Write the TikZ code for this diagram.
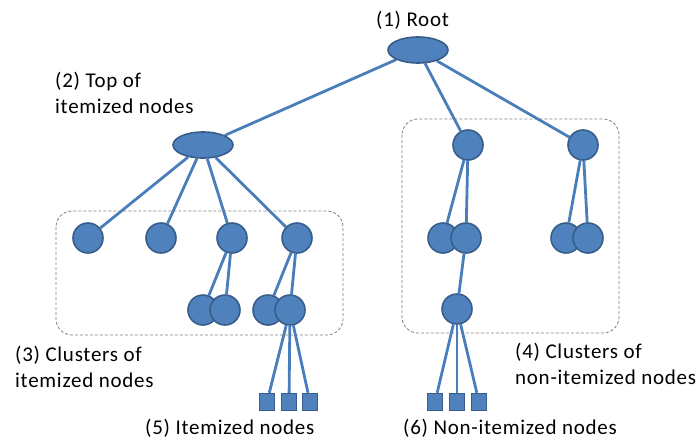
\documentclass[tikz,border=0pt]{standalone}
\usepackage{fontspec}
\setmainfont{Carlito}[LetterSpace=3.5]
\usetikzlibrary{shapes.geometric}
\pgfdeclarelayer{background}
\pgfsetlayers{background,main}
\definecolor{nodefill}{HTML}{4F81BD}
\definecolor{nodeedge}{HTML}{385D8A}
\definecolor{linkcol}{HTML}{4A7EBB}
\definecolor{boxcol}{HTML}{808080}
\tikzset{
  ovalnode/.style={ellipse, draw=nodeedge, fill=nodefill, line width=1.6pt, minimum width=60pt, minimum height=26pt, inner sep=0pt},
  dotnode/.style={circle, draw=nodeedge, fill=nodefill, line width=1.6pt, minimum size=30pt, inner sep=0pt},
  leafnode/.style={rectangle, draw=nodeedge, fill=nodefill, line width=1.4pt, minimum width=15pt, minimum height=17pt, inner sep=0pt},
  link/.style={draw=linkcol, line width=2.8pt},
  clusterbox/.style={draw=boxcol, dashed, dash pattern=on 3pt off 2pt, line width=0.8pt, rounded corners=16pt},
  lbl/.style={font=\fontsize{21}{26}\selectfont, align=left, inner sep=0pt, anchor=west}
}
\begin{document}
\begin{tikzpicture}[x=1pt,y=-1pt]
\useasboundingbox (0,0) rectangle (698,439);
% clusters
\draw[clusterbox] (56,211) rectangle (343,335);
\draw[clusterbox] (402,119) rectangle (619,333);
% nodes
\node[ovalnode] (root) at (418,50) {};
\node[ovalnode] (top) at (203,145) {};
\node[dotnode] (a1) at (88,238) {};
\node[dotnode] (a2) at (161,238) {};
\node[dotnode] (a3) at (232,238) {};
\node[dotnode] (a4) at (297,238) {};
\node[dotnode] (b1) at (203,310) {};
\node[dotnode] (b2) at (225,310) {};
\node[dotnode] (b3) at (268,310) {};
\node[dotnode] (b4) at (290,310) {};
\node[leafnode] (s1) at (267,402) {};
\node[leafnode] (s2) at (289,402) {};
\node[leafnode] (s3) at (310,402) {};
\node[dotnode] (c1) at (468,145) {};
\node[dotnode] (c2) at (583,145) {};
\node[dotnode] (d1) at (443,238) {};
\node[dotnode] (d2) at (466,238) {};
\node[dotnode] (d3) at (566,238) {};
\node[dotnode] (d4) at (588,238) {};
\node[dotnode] (e1) at (457,309) {};
\node[leafnode] (t1) at (435,402) {};
\node[leafnode] (t2) at (457,402) {};
\node[leafnode] (t3) at (479,402) {};
% links
\begin{pgfonlayer}{background}
\draw[link] (root) -- (top);
\draw[link] (root) -- (c1);
\draw[link] (root) -- (c2);
\draw[link] (top) -- (a1);
\draw[link] (top) -- (a2);
\draw[link] (top) -- (a3);
\draw[link] (top) -- (a4);
\draw[link] (a3) -- (b1);
\draw[link] (a3) -- (b2);
\draw[link] (a4) -- (b3);
\draw[link] (a4) -- (b4);
\draw[link] (b4) -- (s1);
\draw[link] (b4) -- (s2);
\draw[link] (b4) -- (s3);
\draw[link] (c1) -- (d1);
\draw[link] (c1) -- (d2);
\draw[link] (c2) -- (d3);
\draw[link] (c2) -- (d4);
\draw[link] (d2) -- (e1);
\draw[link] (e1) -- (t1);
\draw[link] (e1) -- (t2);
\draw[link] (e1) -- (t3);
\end{pgfonlayer}
% labels
\node[lbl] (l1) at (376,20) {(1) Root};
\node[lbl] (l2) at (55,93) {(2) Top of\\itemized nodes};
\node[lbl] (l3) at (15,367) {(3) Clusters of\\itemized nodes};
\node[lbl] (l4) at (515,364) {(4) Clusters of\\non-itemized nodes};
\node[lbl] (l5) at (145,428) {(5) Itemized nodes};
\node[lbl] (l6) at (403,428) {(6) Non-itemized nodes};
\end{tikzpicture}
\end{document}
